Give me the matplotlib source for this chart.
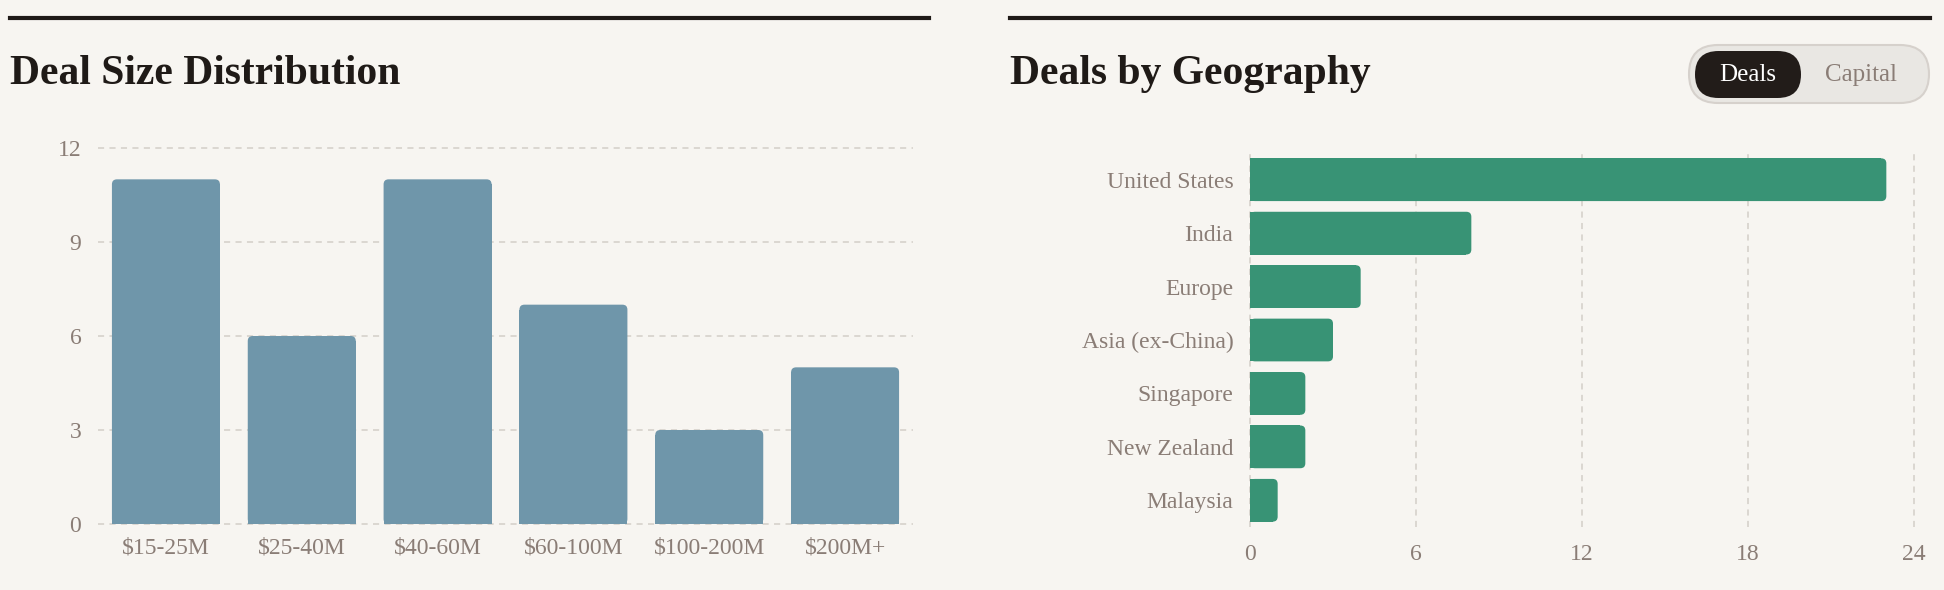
import matplotlib
matplotlib.use("Agg")
import matplotlib.pyplot as plt
from matplotlib.patches import FancyBboxPatch, Rectangle
from matplotlib.lines import Line2D

# data
size_labels = ["$15-25M", "$25-40M", "$40-60M", "$60-100M", "$100-200M", "$200M+"]
size_counts = [11, 6, 11, 7, 3, 5]

geo_labels = ["United States", "India", "Europe", "Asia (ex-China)", "Singapore", "New Zealand", "Malaysia"]
geo_counts = [23, 8, 4, 3, 2, 2, 1]

bg = "#F7F5F1"
ink = "#1F1A17"
muted = "#8A7D76"
grid_c = "#D3CEC8"
blue = "#6F96AA"
green = "#389375"

plt.rcParams["font.family"] = ["Liberation Serif", "DejaVu Serif"]

W, H = 1944, 590
fig = plt.figure(figsize=(W / 100, H / 100), dpi=100, facecolor=bg)


def px_axes(x0, y0, x1, y1):
    # pixel box (top-left origin) -> figure axes
    return fig.add_axes([x0 / W, 1 - y1 / H, (x1 - x0) / W, (y1 - y0) / H])


def round_bars(ax, bars, color, r_px=5, horizontal=False):
    x0, x1 = ax.get_xlim()
    y0, y1 = ax.get_ylim()
    ux = abs(x1 - x0) / ax.bbox.width
    uy = abs(y1 - y0) / ax.bbox.height
    for b in bars:
        x, y, w, h = b.get_x(), b.get_y(), b.get_width(), b.get_height()
        b.set_visible(False)
        p = FancyBboxPatch((x, y), w, h, boxstyle=f"round,pad=0,rounding_size={r_px * ux}",
                           mutation_aspect=uy / ux, fc=color, ec="none", zorder=2)
        ax.add_patch(p)
        if horizontal:
            ax.add_patch(Rectangle((x, y), w - r_px * ux, h, fc=color, ec="none", zorder=2))
        else:
            ax.add_patch(Rectangle((x, y), w, h - r_px * uy, fc=color, ec="none", zorder=2))


def style(ax):
    ax.set_facecolor("none")
    for s in ax.spines.values():
        s.set_visible(False)
    ax.set_axisbelow(True)
    ax.tick_params(length=0, labelcolor=muted, labelsize=17)


# left chart
ax1 = px_axes(98, 148, 913, 524)
style(ax1)
bars = ax1.bar(range(len(size_labels)), size_counts, width=0.795)
ax1.set_xlim(-0.5, len(size_labels) - 0.5)
ax1.set_ylim(0, 12)
ax1.set_yticks([0, 3, 6, 9, 12])
ax1.set_xticks(range(len(size_labels)))
ax1.set_xticklabels(size_labels)
ax1.tick_params(axis="y", pad=12)
ax1.tick_params(axis="x", pad=10)
ax1.grid(axis="y", color=grid_c, linestyle=(0, (4, 3.5)), linewidth=1.1, clip_on=False)
round_bars(ax1, bars, blue)

# right chart
ax2 = px_axes(1250, 153, 1914, 527)
style(ax2)
hb = ax2.barh(range(len(geo_labels)), geo_counts, height=0.8)
ax2.set_ylim(len(geo_labels) - 0.5, -0.5)
ax2.set_xlim(0, 24)
ax2.set_xticks([0, 6, 12, 18, 24])
ax2.set_yticks(range(len(geo_labels)))
ax2.set_yticklabels(geo_labels)
ax2.tick_params(axis="y", pad=12)
ax2.tick_params(axis="x", pad=12)
ax2.grid(axis="x", color=grid_c, linestyle=(0, (4, 3.5)), linewidth=1.1, clip_on=False)
round_bars(ax2, hb, green, horizontal=True)

# overlay for rules, titles and toggle
ov = fig.add_axes([0, 0, 1, 1], zorder=-1)
ov.set_xlim(0, W)
ov.set_ylim(H, 0)
ov.axis("off")
ov.add_line(Line2D([10, 929], [18, 18], color=ink, linewidth=3))
ov.add_line(Line2D([1010, 1930], [18, 18], color=ink, linewidth=3))
ov.text(10, 84, "Deal Size Distribution", fontsize=30, fontweight="bold", color=ink, va="baseline")
ov.text(1010, 84, "Deals by Geography", fontsize=30, fontweight="bold", color=ink, va="baseline")

ov.add_patch(FancyBboxPatch((1689, 45), 240, 58, boxstyle="round,pad=0,rounding_size=29",
                            fc="#E9E7E3", ec="#D6D1CC", linewidth=1.5))
ov.add_patch(FancyBboxPatch((1695, 51), 106, 47, boxstyle="round,pad=0,rounding_size=23.5",
                            fc="#221C19", ec="none"))
ov.text(1748, 75, "Deals", fontsize=18, color="white", ha="center", va="center")
ov.text(1861, 75, "Capital", fontsize=18, color=muted, ha="center", va="center")

fig.savefig("out.png", dpi=100, facecolor=bg)
